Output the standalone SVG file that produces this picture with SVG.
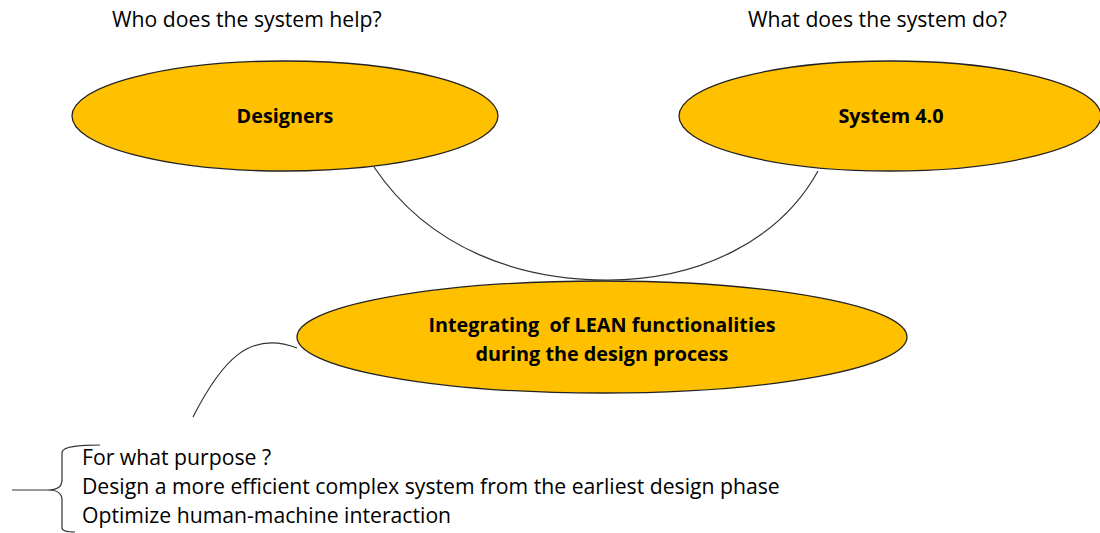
<svg xmlns="http://www.w3.org/2000/svg" width="1100" height="533" viewBox="0 0 1100 533">
<style>
.node ellipse{fill:#FFC000;stroke:#222;stroke-width:1.3}
.lbl{font-family:"Open Sans","Liberation Sans",Arial,sans-serif;font-weight:bold;font-size:19.8px;fill:#000;text-anchor:middle;white-space:pre}
.txt{font-family:"Open Sans","Liberation Sans",Arial,sans-serif;font-size:21.2px;fill:#000}
.conn path{fill:none;stroke:#333;stroke-width:1.2}
</style>
<rect width="1100" height="533" fill="#fff"/>
<text class="txt" x="112" y="27">Who does the system help?</text>
<text class="txt" x="748" y="27">What does the system do?</text>
<g class="conn">
<path d="M374,167 C430,250 520,280 608,280 C700,280 780,240 818,171"/>
<path d="M297,348 C250,330 222,360 193,417"/>
<path d="M100,445 C80,445 64,446 62,452 L62,480 C62,488 56,490 48,490 L12,490 M48,490 C56,490 62,492 62,500 L62,528 C62,531 66,532 75,532"/>
</g>
<g id="designers" class="node">
<ellipse cx="285" cy="116" rx="213" ry="55"/>
<text class="lbl" x="285" y="123">Designers</text>
</g>
<g id="system40" class="node">
<ellipse cx="890" cy="116" rx="211" ry="55"/>
<text class="lbl" x="891" y="123">System 4.0</text>
</g>
<g id="integrating" class="node">
<ellipse cx="602" cy="337" rx="305" ry="56"/>
<text class="lbl" x="602" y="332" xml:space="preserve">Integrating  of LEAN functionalities</text>
<text class="lbl" x="602" y="361">during the design process</text>
</g>
<text class="txt" x="82" y="465">For what purpose ?</text>
<text class="txt" x="82" y="494">Design a more efficient complex system from the earliest design phase</text>
<text class="txt" x="82" y="523">Optimize human-machine interaction</text>
</svg>
